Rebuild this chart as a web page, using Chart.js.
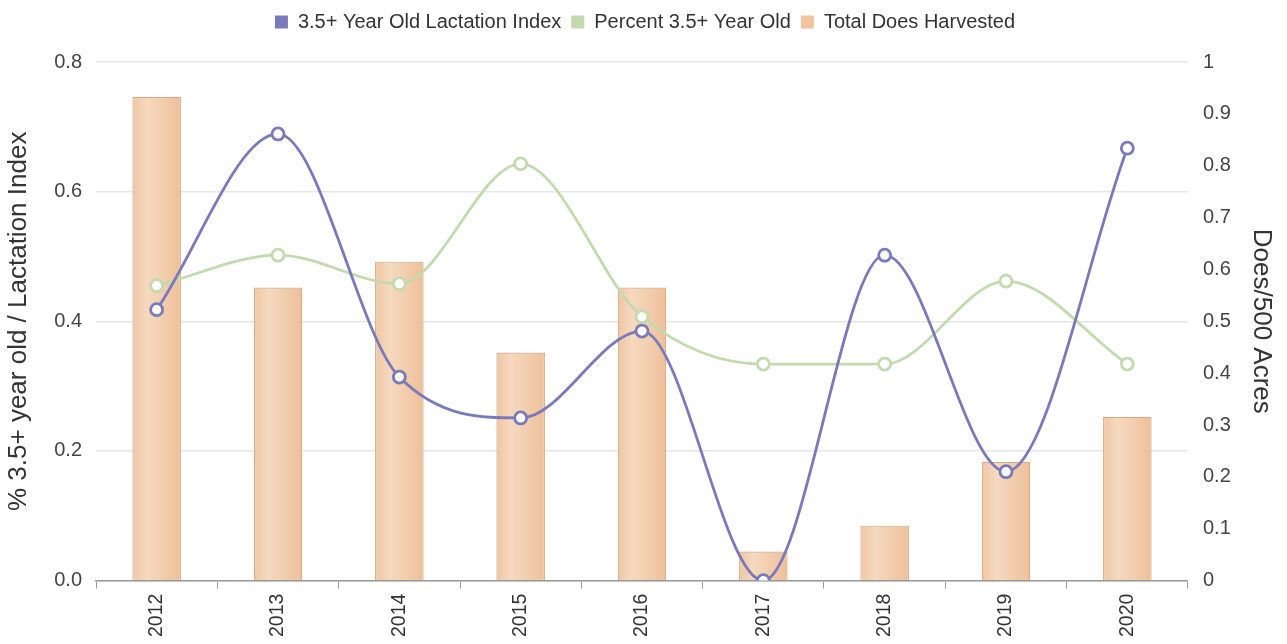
<!DOCTYPE html>
<html>
<head>
<meta charset="utf-8">
<script src="https://cdn.jsdelivr.net/npm/chart.js@4"></script>
<style>
  html, body { margin: 0; padding: 0; background: #fff; }
  #wrap { width: 1287px; height: 644px; }
</style>
</head>
<body>
<div id="wrap"><canvas id="chart"></canvas></div>
<script>
const years = ['2012', '2013', '2014', '2015', '2016', '2017', '2018', '2019', '2020']
const lactationIndex = [0.418, 0.689, 0.314, 0.251, 0.385, 0.0, 0.502, 0.168, 0.667]
const percentOld = [0.455, 0.502, 0.458, 0.643, 0.407, 0.334, 0.334, 0.462, 0.334]
const doesHarvested = [0.933, 0.565, 0.615, 0.44, 0.565, 0.056, 0.106, 0.229, 0.316]

const purple = 'rgb(122, 122, 186)'
const green = 'rgb(196, 217, 176)'
const peach = 'rgb(240, 196, 158)'
const font = 'Liberation Sans, Arial, sans-serif'

function barGradient(context){
    const chart = context.chart
    const xScale = chart.scales.x
    if (!xScale || context.dataIndex === undefined) return peach
    const x = xScale.getPixelForValue(context.dataIndex)
    const w = (xScale.width / years.length) * 0.4
    const g = chart.ctx.createLinearGradient(x - w / 2, 0, x + w / 2, 0)
    g.addColorStop(0, 'rgb(239, 198, 163)')
    g.addColorStop(0.3, 'rgb(246, 217, 192)')
    g.addColorStop(1, 'rgb(238, 192, 153)')
    return g
}

const legendColors = [purple, green, peach]

// extra room under the legend
const legendMargin = {
    id: 'legendMargin',
    beforeInit(chart){
        const fit = chart.legend.fit
        chart.legend.fit = function(){
            fit.bind(chart.legend)()
            this.height += 20
        }
    }
}

new Chart(document.getElementById('chart'), {
    data: {
        labels: years,
        datasets: [
            {
                type: 'line',
                label: '3.5+ Year Old Lactation Index',
                data: lactationIndex,
                yAxisID: 'y',
                borderColor: purple,
                backgroundColor: purple,
                pointBackgroundColor: 'white',
                pointBorderColor: purple,
                pointRadius: 6,
                pointBorderWidth: 2.8,
                borderWidth: 2.8,
                cubicInterpolationMode: 'monotone',
                fill: false,
                order: 1
            },
            {
                type: 'line',
                label: 'Percent 3.5+ Year Old',
                data: percentOld,
                yAxisID: 'y',
                borderColor: green,
                backgroundColor: green,
                pointBackgroundColor: 'white',
                pointBorderColor: green,
                pointRadius: 6,
                pointBorderWidth: 2.8,
                borderWidth: 2.8,
                cubicInterpolationMode: 'monotone',
                fill: false,
                order: 1
            },
            {
                type: 'bar',
                label: 'Total Does Harvested',
                data: doesHarvested,
                yAxisID: 'y1',
                backgroundColor: barGradient,
                borderColor: 'rgb(212, 170, 136)',
                borderWidth: 1.2,
                barPercentage: 0.4,
                categoryPercentage: 1,
                order: 2
            }
        ]
    },
    options: {
        responsive: true,
        maintainAspectRatio: false,
        animation: false,
        layout: { padding: { left: 3, right: 0, top: 2, bottom: 2 } },
        plugins: {
            tooltip: { enabled: false },
            legend: {
                position: 'top',
                labels: {
                    boxWidth: 13,
                    boxHeight: 13,
                    padding: 10,
                    color: '#333',
                    font: { family: font, size: 20 },
                    generateLabels: (chart) => chart.data.datasets.map((ds, i) => ({
                        text: ds.label,
                        fillStyle: legendColors[i],
                        strokeStyle: legendColors[i],
                        lineWidth: 0,
                        fontColor: '#333',
                        hidden: false,
                        datasetIndex: i
                    }))
                }
            }
        },
        scales: {
            x: {
                offset: true,
                grid: {
                    offset: true,
                    drawOnChartArea: false,
                    drawTicks: true,
                    tickLength: 8,
                    color: '#999'
                },
                border: { display: true, color: '#999', width: 1.5 },
                ticks: {
                    minRotation: 90,
                    maxRotation: 90,
                    padding: 5,
                    color: '#333',
                    font: { family: font, size: 19.5 }
                }
            },
            y: {
                position: 'left',
                min: 0,
                max: 0.8,
                ticks: {
                    stepSize: 0.2,
                    padding: 14,
                    color: '#444',
                    font: { family: font, size: 20 },
                    callback: (v) => v.toFixed(1)
                },
                grid: { color: '#e6e6e6', lineWidth: 1.5, drawTicks: false },
                border: { display: false },
                title: {
                    display: true,
                    text: '% 3.5+ year old / Lactation Index',
                    color: '#333',
                    font: { family: font, size: 26 },
                    padding: { top: 0, bottom: 6 }
                }
            },
            y1: {
                position: 'right',
                min: 0,
                max: 1,
                ticks: {
                    stepSize: 0.1,
                    padding: 15,
                    color: '#444',
                    font: { family: font, size: 20 },
                    callback: (v) => String(Math.round(v * 10) / 10)
                },
                grid: { drawOnChartArea: false, drawTicks: false },
                border: { display: false },
                title: {
                    display: true,
                    text: 'Does/500 Acres',
                    color: '#333',
                    font: { family: font, size: 26 },
                    padding: { top: 10, bottom: 0 }
                }
            }
        }
    },
    plugins: [legendMargin]
})
</script>
</body>
</html>
